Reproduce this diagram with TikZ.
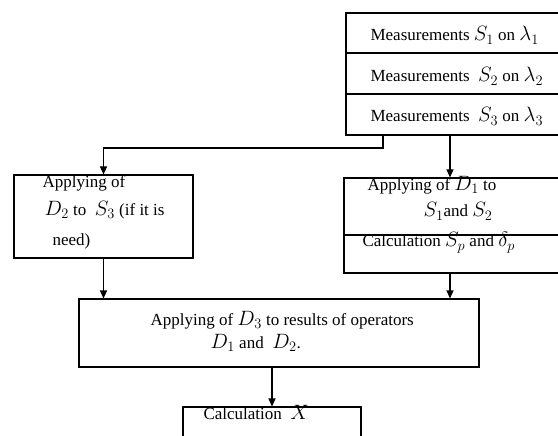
\documentclass[tikz,border=0pt]{standalone}
\usepackage{fontspec}
\setmainfont{Liberation Serif}
\DeclareMathSizes{17}{20}{14}{10}
\usetikzlibrary{arrows.meta}

\begin{document}
\begin{tikzpicture}[>={Stealth[length=8pt,width=7pt,inset=0pt]}, x=1pt, y=-1pt, line width=1.1pt,
  box/.style={draw, rectangle, inner sep=0pt},
  txt/.style={anchor=base west, inner sep=0pt, font=\fontsize{17}{20}\selectfont}]
\useasboundingbox (0,0) rectangle (558,436);
\clip (0,0) rectangle (558,436);
\node  (meas1) at (473,33)    [box, minimum width=254pt, minimum height=40pt] {};
\node  (meas2) at (473,73.5)  [box, minimum width=254pt, minimum height=41pt] {};
\node  (meas3) at (473,114.5) [box, minimum width=254pt, minimum height=41pt] {};
\node (apply2) at (103.5,216.5) [box, minimum width=179pt, minimum height=83pt] {};
\node (apply1) at (472,206.5) [box, minimum width=256pt, minimum height=57pt] {};
\node (calcsp) at (472,254)   [box, minimum width=256pt, minimum height=38pt] {};
\node (apply3) at (279,333)   [box, minimum width=400pt, minimum height=68pt] {};
\node  (calcx) at (272,432)   [box, minimum width=178pt, minimum height=50pt] {};
\coordinate (knee) at (383,148);
\coordinate (drop) at (450,0);
\node  (m1txt) at (370,41)  [txt] {Measurements $S_1$ on\ $\lambda_1$};
\node  (m2txt) at (370,82)  [txt] {Measurements\ \ $S_2$ on $\lambda_2$};
\node  (m3txt) at (370,122) [txt] {Measurements\ \ $S_3$ on $\lambda_3$};
\node (a2txta) at (42,188)  [txt] {Applying of};
\node (a2txtb) at (44,215)  [txt] {$D_2$ to\ \ $S_3$ (if it is};
\node (a2txtc) at (52,245)  [txt] {need)};
\node (a1txta) at (367,190) [txt] {Applying of $D_1$\ to};
\node (a1txtb) at (423,217) [txt] {$S_1$and $S_2$};
\node  (sptxt) at (362,247) [txt] {Calculation $S_p$ and $\delta_p$};
\node (a3txta) at (150,325) [txt] {Applying of $D_3$\ to results of operators};
\node (a3txtb) at (210,348) [txt] {$D_1$ and\ \ $D_2$.};
\node  (cxtxt) at (203,419) [txt] {Calculation\ \ $X$};
\draw [->] (meas3.south -| knee) -- (knee) -| (apply2.north);
\draw [->] (meas3.south -| drop) -- (apply1.north -| drop);
\draw [->] (apply2.south) -- (apply3.north -| apply2.south);
\draw [->] (calcsp.south -| drop) -- (apply3.north -| drop);
\draw [->] (apply3.south -| calcx.north) -- (calcx.north);
\end{tikzpicture}
\end{document}
